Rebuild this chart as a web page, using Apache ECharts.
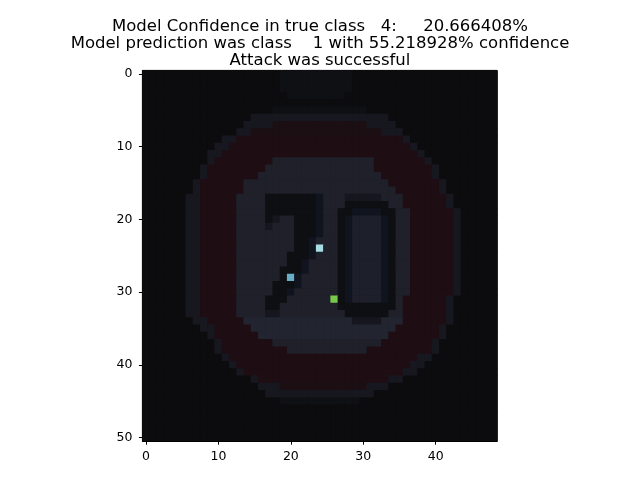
<!DOCTYPE html>
<html>
<head>
<meta charset="utf-8">
<script src="https://cdn.jsdelivr.net/npm/echarts@6/dist/echarts.min.js"></script>
<style>
  html, body { margin: 0; padding: 0; background: #fff; }
  #chart { width: 640px; height: 480px; }
</style>
</head>
<body>
<div id="chart"></div>
<script>
// imshow-style picture of a 49x51 traffic sign, one rect per pixel

const titleLines = [
  'Model Confidence in true class   4:     20.666408%',
  'Model prediction was class    1 with 55.218928% confidence',
  'Attack was successful'
];

const imgWidth = 49;
const imgHeight = 51;
const xTickLabels = [0, 10, 20, 30, 40];
const yTickLabels = [0, 10, 20, 30, 40, 50];

// palette keys used in the rows below
const paletteKeys = ['.', ',', '-', 'r', 'R', 'g', 'G', 'e', 'd', 'n', 'h', 'a', 'b', 'c'];
const paletteColors = [
  '#0c0c0e', // background
  '#0f1014', // faint lighter background
  '#17181f', // sign border
  '#1b0f14', // dim red
  '#1e0e14', // red ring
  '#1f2029', // inner disk
  '#222430', // lighter inner disk
  '#16171e', // soft digit edge
  '#0e0f13', // digit
  '#10141e', // digit navy
  '#1d1f2a', // inside of the 0
  '#a5dde3', // perturbed pixel (24,24)
  '#6aaec6', // perturbed pixel (20,28)
  '#78c84b'  // perturbed pixel (26,31)
];

// one run-length string per image row: count + palette key
const pixelRows = [
  '19. 10, 20.',
  '19. 10, 20.',
  '19. 10, 20.',
  '20. 8, 21.',
  '49.',
  '18. 13, 18.',
  '15. 19- 15.',
  '14. 4- 13r 4- 14.',
  '13. 2- 18r 3- 13.',
  '11. 2- 23R 1- 12.',
  '10. 2- 25R 1- 11.',
  '9. 2- 27R 1- 10.',
  '9. 1- 8R 14g 7R 1- 9.',
  '8. 1- 8R 15g 8R 1- 8.',
  '8. 1- 7R 17g 7R 1- 8.',
  '7. 1- 6R 20g 7R 1- 7.',
  '7. 1- 6R 21g 6R 1- 7.',
  '6. 2- 5R 4g 7d 1n 3g 5e 3g 6R 1- 6.',
  '6. 2- 5R 4g 7d 1n 3g 6d 2g 6R 1- 6.',
  '6. 2- 5R 4g 7d 1n 2g 2d 4n 2d 2g 6R 1- 5.',
  '6. 2- 5R 4g 1d 1e 2g 3d 1n 2g 1d 1n 4h 1n 1d 2g 6R 1- 5.',
  '6. 2- 5R 4g 1e 3g 3d 1n 2g 1d 1n 4h 1n 1d 2g 6R 1- 5.',
  '6. 2- 5R 8g 3d 1n 2g 1d 1n 4h 1n 1d 2g 6R 1- 5.',
  '6. 2- 5R 8g 2d 1n 3g 1d 1n 4h 1n 1d 2g 6R 1- 5.',
  '6. 2- 5R 8g 2d 1n 1a 2g 1d 1n 4h 1n 1d 2g 6R 1- 5.',
  '6. 2- 5R 7g 3d 1n 3g 1d 1n 4h 1n 1d 2g 6R 1- 5.',
  '6. 2- 5R 7g 2d 1n 4g 1d 1n 4h 1n 1d 2g 6R 1- 5.',
  '6. 2- 5R 6g 3d 1n 4g 1d 1n 4h 1n 1d 2g 6R 1- 5.',
  '6. 2- 5R 6g 1d 1b 1n 5g 1d 1n 4h 1n 1d 2g 6R 1- 5.',
  '6. 2- 5R 5g 3d 1n 5g 1d 1n 4h 1n 1d 2g 6R 1- 5.',
  '6. 2- 5R 5g 2d 1n 6g 1d 1n 4h 1n 1d 2g 6R 1- 5.',
  '6. 2- 5R 4g 3d 6g 1c 1d 1n 4h 1n 1d 1g 6R 1- 6.',
  '6. 2- 5R 4g 2d 8g 8d 1g 6R 1- 6.',
  '6. 2- 5R 4g 2e 9g 6d 2g 6R 1- 6.',
  '7. 2- 5R 15G 4e 3G 6R 1- 6.',
  '8. 2- 5R 20G 6R 1- 7.',
  '9. 1- 6R 18G 7R 1- 7.',
  '10. 1- 7R 15g 7R 1- 8.',
  '10. 1- 9R 11g 9R 1- 8.',
  '11. 1- 26R 2- 9.',
  '12. 1- 24R 2- 10.',
  '13. 1- 22R 2- 11.',
  '15. 1- 18R 2- 13.',
  '16. 3- 12r 3- 15.',
  '17. 15- 17.',
  '19. 11, 19.',
  '49.',
  '49.',
  '49.',
  '49.',
  '49.'
];

const cells = [];
pixelRows.forEach((row, y) => {
  let x = 0;
  row.split(' ').forEach(tok => {
    const n = parseInt(tok, 10);
    const key = tok.slice(String(n).length);
    const idx = paletteKeys.indexOf(key);
    for (let i = 0; i < n && x < imgWidth; i++, x++) {
      cells.push([x, y, idx]);
    }
  });
  while (x < imgWidth) { cells.push([x, y, 0]); x++; }
});

const xCats = [];
for (let i = 0; i < imgWidth; i++) xCats.push(String(i));
const yCats = [];
for (let i = 0; i < imgHeight; i++) yCats.push(String(i));

const font = 'DejaVu Sans';
const tickStyle = { color: '#000', width: 1 };

const myChart = echarts.init(document.getElementById('chart'), null, { renderer: 'canvas' });

const option = {
  animation: false,
  backgroundColor: '#fff',
  title: {
    text: titleLines.join('\n'),
    left: 'center',
    top: 13,
    textStyle: {
      fontFamily: font,
      fontSize: 16.5,
      fontWeight: 'normal',
      color: '#000',
      lineHeight: 17.1
    }
  },
  grid: {
    left: 142.4,
    top: 70.4,
    width: 354.8,
    height: 370.8,
    show: true,
    borderColor: '#000',
    borderWidth: 1,
    backgroundColor: paletteColors[0]
  },
  xAxis: {
    type: 'category',
    data: xCats,
    position: 'bottom',
    axisLine: { show: true, lineStyle: tickStyle },
    axisTick: {
      show: true,
      alignWithLabel: true,
      length: 3.5,
      interval: i => xTickLabels.includes(i),
      lineStyle: tickStyle
    },
    axisLabel: {
      interval: i => xTickLabels.includes(i),
      margin: 9,
      fontFamily: font,
      fontSize: 12.5,
      color: '#000'
    },
    splitLine: { show: false },
    splitArea: { show: false }
  },
  yAxis: {
    type: 'category',
    data: yCats,
    inverse: true,
    axisLine: { show: true, lineStyle: tickStyle },
    axisTick: {
      show: true,
      alignWithLabel: true,
      length: 3.5,
      interval: i => yTickLabels.includes(i),
      lineStyle: tickStyle
    },
    axisLabel: {
      interval: i => yTickLabels.includes(i),
      margin: 10,
      fontFamily: font,
      fontSize: 12.5,
      color: '#000'
    },
    splitLine: { show: false },
    splitArea: { show: false }
  },
  series: [
    {
      name: 'image',
      type: 'custom',
      data: cells,
      clip: true,
      silent: true,
      renderItem: (params, api) => {
        const p = api.coord([api.value(0), api.value(1)]);
        const s = api.size([1, 1]);
        return {
          type: 'rect',
          shape: {
            x: p[0] - s[0] / 2 - 0.3,
            y: p[1] - s[1] / 2 - 0.3,
            width: s[0] + 0.6,
            height: s[1] + 0.6
          },
          style: { fill: paletteColors[api.value(2)], lineWidth: 0 }
        };
      }
    }
  ]
};

myChart.setOption(option);
</script>
</body>
</html>
